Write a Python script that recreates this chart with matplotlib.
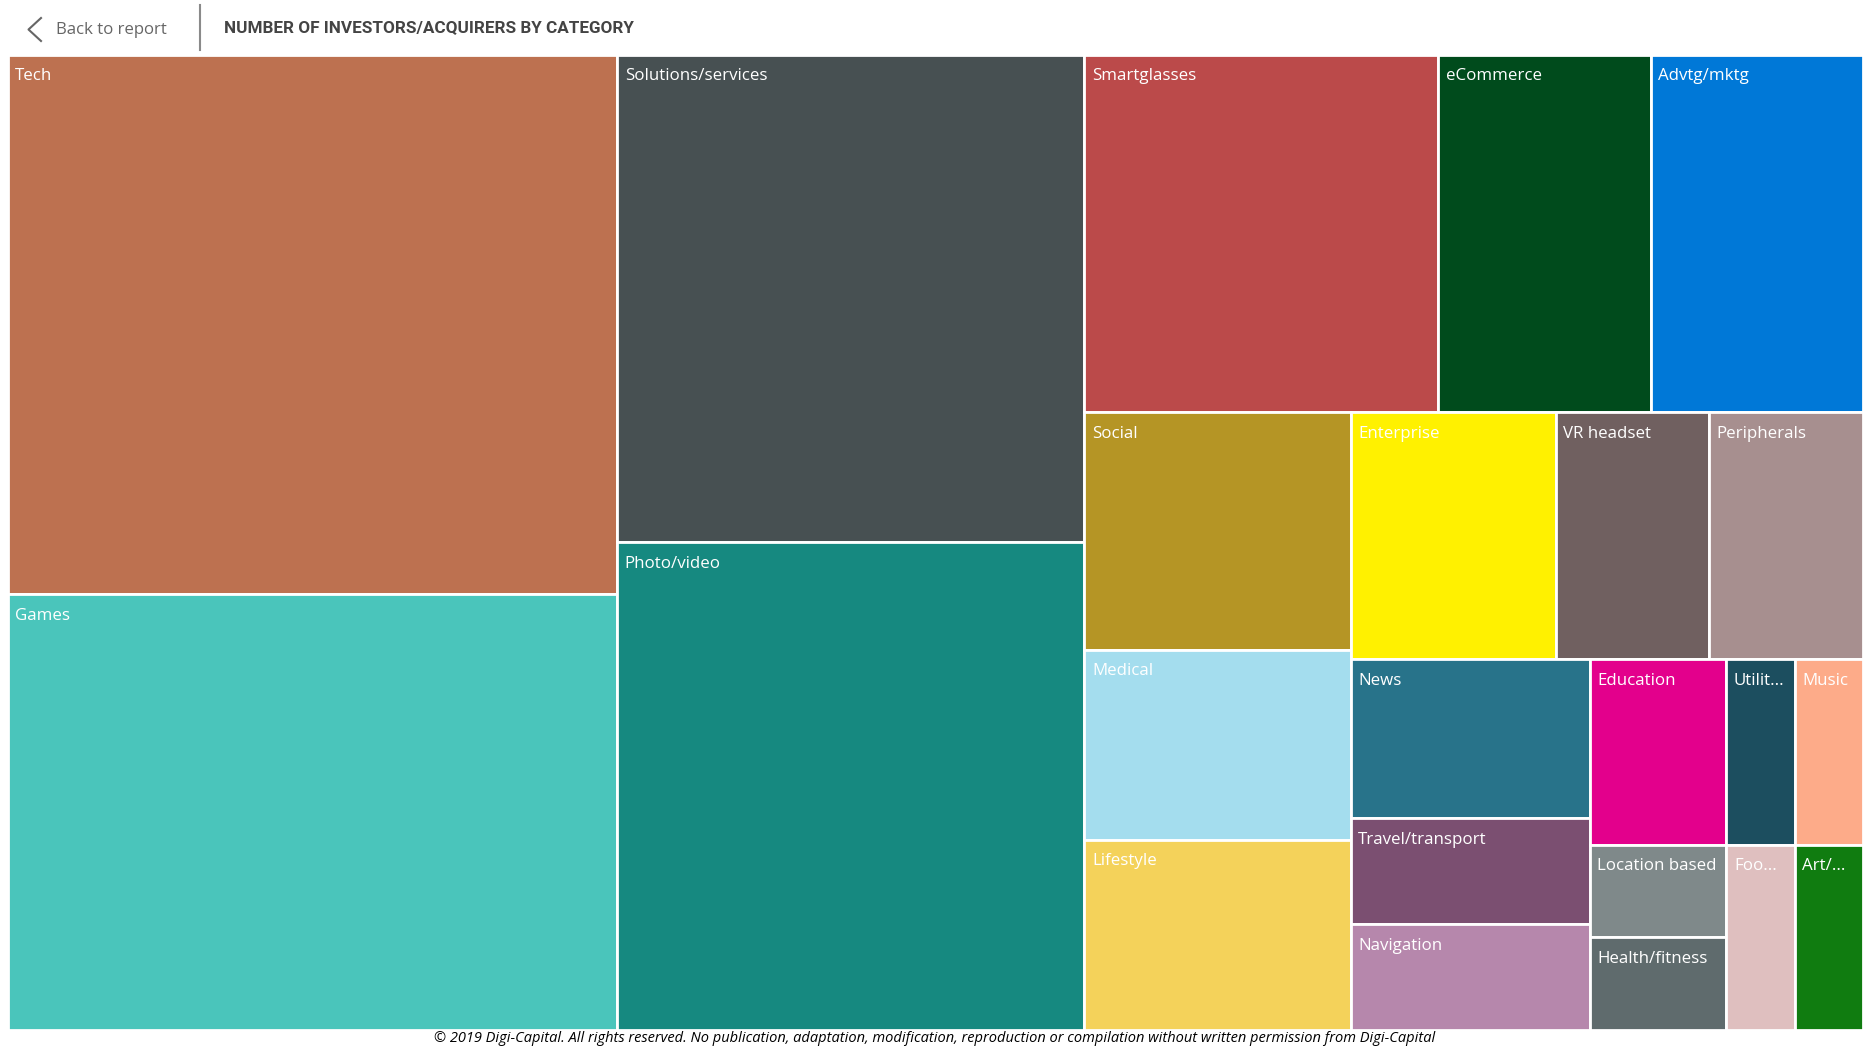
import matplotlib
matplotlib.use("Agg")
from matplotlib import pyplot as plt
from matplotlib.patches import Rectangle

# categories in the order the treemap lays them out
categories = ["Tech", "Games", "Solutions/services", "Photo/video", "Smartglasses",
              "eCommerce", "Advtg/mktg", "Social", "Medical", "Lifestyle",
              "Enterprise", "VR headset", "Peripherals", "News", "Travel/transport",
              "Navigation", "Education", "Utilit...", "Music", "Location based",
              "Health/fitness", "Foo...", "Art/..."]
investors = [26, 21, 18, 18, 10, 6, 6, 5, 4, 4, 4, 3, 3, 3, 2, 2, 2, 1, 1, 1, 1, 1, 1]
colors = ["#BD7150", "#4AC5BB", "#475052", "#168980", "#BB4A4A",
          "#004B1C", "#0078D7", "#B59525", "#A4DDEE", "#F4D25A",
          "#FFF100", "#706060", "#A78F8F", "#28738A", "#7B4F71",
          "#B687AC", "#E3008C", "#1C4E5F", "#FDAB89", "#7F898A",
          "#5F6B6D", "#DFBFBF", "#107C10"]

title = "NUMBER OF INVESTORS/ACQUIRERS BY CATEGORY"
footer = ("\u00a9 2019 Digi-Capital. All rights reserved. No publication, adaptation, "
          "modification, reproduction or compilation without written permission from Digi-Capital")

PHI = (1 + 5 ** 0.5) / 2


# squarified layout, golden ratio variant. returns (x, y, w, h) per value
def squarify(values, x0, y0, x1, y1):
    rects = []
    i = 0
    n = len(values)
    remaining = sum(values)
    while i < n:
        dx = x1 - x0
        dy = y1 - y0
        alpha = max(dy / dx, dx / dy) / (remaining * PHI)
        total = values[i]
        lo = hi = values[i]
        beta = total * total * alpha
        best = max(hi / beta, beta / lo)
        j = i + 1
        while j < n:
            v = values[j]
            new_total = total + v
            new_lo = min(lo, v)
            new_hi = max(hi, v)
            beta = new_total * new_total * alpha
            ratio = max(new_hi / beta, beta / new_lo)
            if ratio > best:
                break
            best, total, lo, hi = ratio, new_total, new_lo, new_hi
            j += 1
        if dx < dy:
            # row along the top
            h = dy * total / remaining
            x = x0
            for v in values[i:j]:
                w = dx * v / total
                rects.append((x, y0, w, h))
                x += w
            y0 += h
        else:
            # column on the left
            w = dx * total / remaining
            y = y0
            for v in values[i:j]:
                h = dy * v / total
                rects.append((x0, y, w, h))
                y += h
            x0 += w
        remaining -= total
        i = j
    return rects


fig = plt.figure(figsize=(18.68, 10.47), dpi=100)
ax = fig.add_axes([0, 0, 1, 1])
ax.set_xlim(0, 1868)
ax.set_ylim(1047, 0)
ax.axis("off")

for (x, y, w, h), name, c in zip(squarify(investors, 7.5, 54.5, 1863, 1030), categories, colors):
    ax.add_patch(Rectangle((x, y), w, h, fc=c, ec="white", lw=2))
    ax.text(x + 7.5, y + 21.5, name, color="white", fontsize=12.2, family="Open Sans",
            ha="left", va="center")

# header
ax.plot([41, 28.5, 41], [18, 29.5, 41], color="#666666", lw=1.5)
ax.text(56, 30.5, "Back to report", color="#666666", fontsize=12.1, family="Open Sans",
        ha="left", va="center")
ax.plot([200, 200], [5, 50], color="#8a8a8a", lw=1.5)
ax.text(224, 27.5, title, color="#444444", fontsize=12.3, family="Roboto",
        weight="bold", ha="left", va="center")

# copyright line
ax.text(935, 1038.5, footer, color="black", fontsize=10.55, family="Open Sans",
        style="italic", ha="center", va="center")

fig.savefig("out.png", dpi=100)
